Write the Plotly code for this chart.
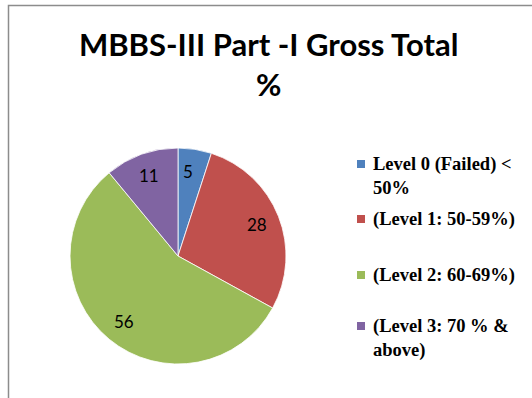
import math
import plotly.graph_objects as go

# Grade distribution, MBBS-III Part-I gross total
labels = [
    "Level 0 (Failed) <<br>50%",
    "(Level 1: 50-59%)",
    "(Level 2: 60-69%)",
    "(Level 3: 70 % &<br>above)",
]
values = [5, 28, 56, 11]
colors = ["#4F81BD", "#C0504D", "#9BBB59", "#8064A2"]

W, H = 532, 398
CX, CY, R = 178, 256, 108   # pie centre and radius, in pixels


def px_x(x):
    return x / W


def px_y(y):
    return 1 - y / H


fig = go.Figure()
fig.add_trace(go.Pie(
    labels=[l.replace("<br>", " ") for l in labels],
    values=values,
    marker=dict(colors=colors, line=dict(color="white", width=0.8)),
    sort=False,
    direction="clockwise",
    rotation=0,
    textinfo="none",
    domain=dict(x=[px_x(CX - R), px_x(CX + R)], y=[px_y(CY + R), px_y(CY - R)]),
    showlegend=False,
    hoverinfo="label+value",
))

# Value labels placed on each slice's mid-angle, near the rim
total = sum(values)
cum = 0
for i, v in enumerate(values):
    mid = (cum + v / 2) / total * 2 * math.pi
    cum += v
    r = 0.79 * R
    x = CX + r * math.sin(mid)
    y = CY - r * math.cos(mid)
    if i == 0:
        x -= 3  # nudge the narrow first slice's label toward its centre line
    fig.add_annotation(x=px_x(x), y=px_y(y), xref="paper", yref="paper",
                       text=str(v), showarrow=False,
                       xanchor="center", yanchor="middle",
                       font=dict(family="Lato, sans-serif", size=17, color="black"))

# Legend drawn as annotations with colour swatches
legend_y = [176, 219, 275, 338]
LEG_SIZE = 18.5
for lab, col, yc in zip(labels, colors, legend_y):
    n_lines = lab.count("<br>") + 1
    first_line_y = yc - (n_lines - 1) * 0.65 * LEG_SIZE
    fig.add_shape(type="rect", xref="paper", yref="paper",
                  x0=px_x(357), x1=px_x(365),
                  y0=px_y(first_line_y + 4), y1=px_y(first_line_y - 4),
                  fillcolor=col, line=dict(width=0))
    fig.add_annotation(x=px_x(371), y=px_y(yc), xref="paper", yref="paper",
                       text="<b>" + lab + "</b>", showarrow=False,
                       xanchor="left", yanchor="middle", align="left",
                       font=dict(family="Liberation Serif, Times New Roman, serif",
                                 size=LEG_SIZE, color="black"))

# Chart frame
fig.add_shape(type="rect", xref="paper", yref="paper",
              x0=px_x(8.5), x1=px_x(560), y0=px_y(420), y1=px_y(5.5),
              line=dict(color="#8C8C8C", width=1.5), fillcolor="rgba(0,0,0,0)")

fig.update_layout(
    width=W, height=H,
    margin=dict(l=0, r=0, t=0, b=0),
    paper_bgcolor="white",
    plot_bgcolor="white",
    title=dict(
        text="<b>MBBS-III Part -I Gross Total<br>%</b>",
        x=0.505, xanchor="center", y=px_y(56), yanchor="middle",
        font=dict(family="Lato, sans-serif", size=31, color="black"),
    ),
)

fig.write_html("out.html")
